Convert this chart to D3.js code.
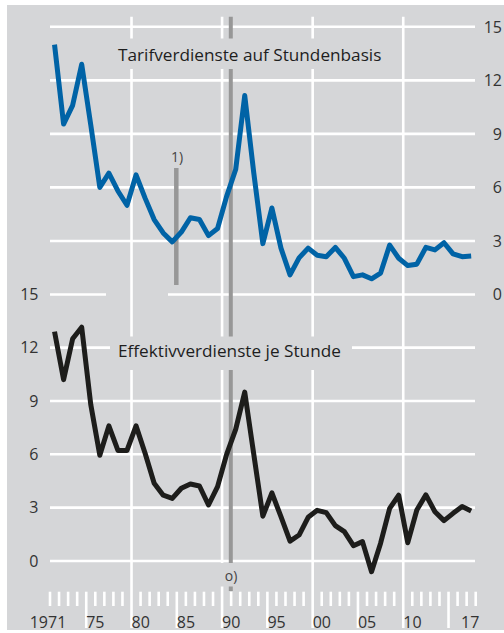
<!DOCTYPE html>
<html><head><meta charset="utf-8">
<script src="https://cdn.jsdelivr.net/npm/d3@7/dist/d3.min.js"></script>
<style>body{margin:0;background:#fff}svg{display:block}text{font-family:"Open Sans",sans-serif}</style>
</head><body>
<script>
const years = d3.range(1971, 2018);
const tarif = [14.0,9.55,10.6,12.9,9.5,6.0,6.8,5.8,5.0,6.7,5.4,4.2,3.45,2.95,3.5,4.3,4.2,3.3,3.7,5.5,7.0,11.15,6.8,2.85,4.85,2.6,1.1,2.05,2.6,2.2,2.12,2.64,2.03,1.0,1.1,0.88,1.2,2.77,2.03,1.62,1.7,2.64,2.5,2.9,2.28,2.12,2.16];
const effektiv = [12.9,10.2,12.5,13.15,8.8,5.95,7.6,6.22,6.22,7.6,6.06,4.37,3.7,3.52,4.09,4.33,4.22,3.15,4.18,6.0,7.4,9.5,6.0,2.52,3.83,2.49,1.12,1.46,2.46,2.85,2.72,1.99,1.65,0.86,1.09,-0.6,1.0,2.96,3.7,1.03,2.87,3.72,2.77,2.27,2.68,3.06,2.81];
const yTicks = [0,3,6,9,12,15];
const xLabelYears = [1971,1975,1980,1985,1990,1995,2000,2005,2010,2017];
const xLabels = ["1971","75","80","85","90","95","00","05","10","17"];
const gridYears = [1980,1990,2000,2010];
const longTickYears = [1975,1985,1995,2005,2015];
const titleTop = "Tarifverdienste auf Stundenbasis";
const titleBottom = "Effektivverdienste je Stunde";

const W = 504, H = 633;
const bg = "#d5d6d8";
const svg = d3.select("body").append("svg").attr("width", W).attr("height", H);
svg.append("rect").attr("x", 7).attr("y", 5).attr("width", W - 7).attr("height", 625).attr("fill", bg);

const x = d3.scaleLinear().domain([1971, 2018]).range([50, 475.7]);
const yTop = d3.scaleLinear().domain([0, 15]).range([294.5, 26.8]);
const yBot = d3.scaleLinear().domain([0, 15]).range([561, 294.3]);
const gx0 = 50, gx1 = 475;

const grid = svg.append("g").attr("stroke", "#fff").attr("stroke-width", 2.6);
yTicks.filter(v => v > 0).forEach(v => grid.append("line").attr("x1", gx0).attr("x2", gx1).attr("y1", yTop(v)).attr("y2", yTop(v)));
yTicks.filter(v => v < 15).forEach(v => grid.append("line").attr("x1", gx0).attr("x2", gx1).attr("y1", yBot(v)).attr("y2", yBot(v)));
grid.append("line").attr("x1", gx0).attr("x2", 106).attr("y1", yTop(0)).attr("y2", yTop(0));
grid.append("line").attr("x1", 168).attr("x2", gx1).attr("y1", yTop(0)).attr("y2", yTop(0));
gridYears.forEach(yr => grid.append("line").attr("x1", x(yr)).attr("x2", x(yr)).attr("y1", 16.7).attr("y2", 628));
years.concat([2018]).forEach(yr => {
  if (gridYears.includes(yr)) return;
  const long = longTickYears.includes(yr);
  grid.append("line").attr("x1", x(yr)).attr("x2", x(yr)).attr("y1", 591.7).attr("y2", long ? 628 : 606);
});

svg.append("line").attr("x1", x(1985)-0.5).attr("x2", x(1985)-0.5).attr("y1", 168).attr("y2", 285)
  .attr("stroke", "#979797").attr("stroke-width", 4.5);
svg.append("line").attr("x1", 230.8).attr("x2", 230.8).attr("y1", 16.7).attr("y2", 591)
  .attr("stroke", "#979797").attr("stroke-width", 4);

svg.append("rect").attr("x", 110).attr("y", 38.5).attr("width", 282).attr("height", 30.5).attr("fill", bg);
svg.append("rect").attr("x", 110).attr("y", 336.5).attr("width", 242).attr("height", 33.5).attr("fill", bg);
svg.append("rect").attr("x", 218).attr("y", 563).attr("width", 26).attr("height", 23.5).attr("fill", bg);

svg.append("text").attr("x", 118).attr("y", 61).attr("font-size", 17.2).attr("fill", "#1e1e1e").text(titleTop);
svg.append("text").attr("x", 118).attr("y", 357.3).attr("font-size", 17.2).attr("fill", "#1e1e1e").text(titleBottom);
svg.append("text").attr("x", 177).attr("y", 161.5).attr("font-size", 14).attr("text-anchor", "middle").attr("fill", "#444").text("1)");
svg.append("text").attr("x", 231).attr("y", 580.5).attr("font-size", 14).attr("text-anchor", "middle").attr("fill", "#444").text("o)");

const lab = svg.append("g").attr("font-size", 16).attr("fill", "#333");
yTicks.forEach(v => lab.append("text").attr("x", 502).attr("y", yTop(v) + 5.8).attr("text-anchor", "end").text(v));
yTicks.forEach(v => lab.append("text").attr("x", 38.5).attr("y", yBot(v) + 5.8).attr("text-anchor", "end").text(v));
xLabelYears.forEach((yr, i) => {
  let t = lab.append("text").attr("y", 628.3).text(xLabels[i]);
  if (yr === 1971) t.attr("x", x(yr) - 2).attr("text-anchor", "middle");
  else if (yr === 2017) t.attr("x", x(yr + 0.5) - 1).attr("text-anchor", "middle");
  else t.attr("x", x(yr)).attr("text-anchor", "start");
});

const lineTop = d3.line().x((d, i) => x(years[i] + 0.5)).y(d => yTop(d));
const lineBot = d3.line().x((d, i) => x(years[i] + 0.5)).y(d => yBot(d));
svg.append("path").attr("d", lineTop(tarif)).attr("fill", "none").attr("stroke", "#0063a6")
  .attr("stroke-width", 5).attr("stroke-linejoin", "round");
svg.append("path").attr("d", lineBot(effektiv)).attr("fill", "none").attr("stroke", "#1d1d1b")
  .attr("stroke-width", 5).attr("stroke-linejoin", "round");
</script>
</body></html>
